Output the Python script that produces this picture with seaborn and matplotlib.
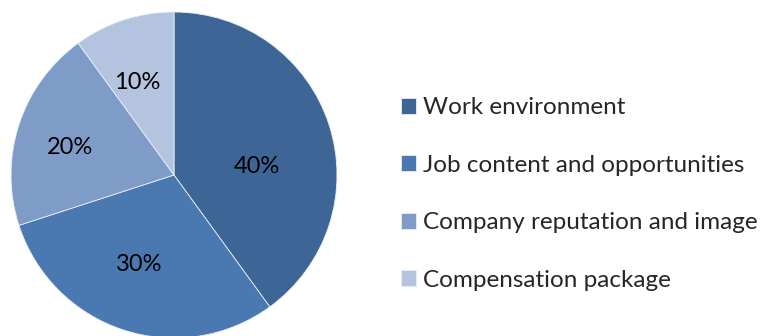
import matplotlib
matplotlib.use("Agg")
import matplotlib.pyplot as plt
import seaborn as sns
import numpy as np

sns.set_theme(style="white")
plt.rcParams["font.family"] = ["Lato", "DejaVu Sans"]

categories = ["Work environment", "Job content and opportunities",
              "Company reputation and image", "Compensation package"]
shares = [40, 30, 20, 10]
colors = ["#3D6696", "#4A78B0", "#7F9CC8", "#B4C3DE"]

W, H, DPI = 766, 336, 100
fig = plt.figure(figsize=(W / DPI, H / DPI), dpi=DPI)
fig.patch.set_facecolor("white")

cx, cy, r = 174, 175, 163
ax = fig.add_axes([(cx - r) / W, (H - cy - r) / H, 2 * r / W, 2 * r / H])

wedges, texts, autotexts = ax.pie(
    shares, colors=colors, startangle=90, counterclock=False, radius=1,
    autopct=lambda p: f"{p:.0f}%", pctdistance=0.62,
    wedgeprops=dict(edgecolor="#E8EEF6", linewidth=0.6),
    textprops=dict(fontsize=17, color="black"),
)
ax.set_xlim(-1, 1)
ax.set_ylim(-1, 1)
ax.set_aspect("equal")
ax.axis("off")
for w in wedges:
    w.set_clip_on(False)

# label placement inside each slice (angle in degrees, fraction of radius)
label_polar = [(6, 0.51), (-111, 0.59), (165, 0.66), (112, 0.61)]
for t, (ang, rr) in zip(autotexts, label_polar):
    a = np.deg2rad(ang)
    t.set_position((rr * np.cos(a), rr * np.sin(a)))
    t.set_ha("center")
    t.set_va("center")

leg = fig.legend(
    wedges, categories, loc="center left",
    bbox_to_anchor=(401 / W, (H - 194) / H),
    frameon=False, fontsize=17.5, handlelength=0.62, handleheight=0.62,
    handletextpad=0.3, labelspacing=1.5, borderpad=0, borderaxespad=0,
)

fig.savefig("out.png", dpi=DPI, facecolor="white")
